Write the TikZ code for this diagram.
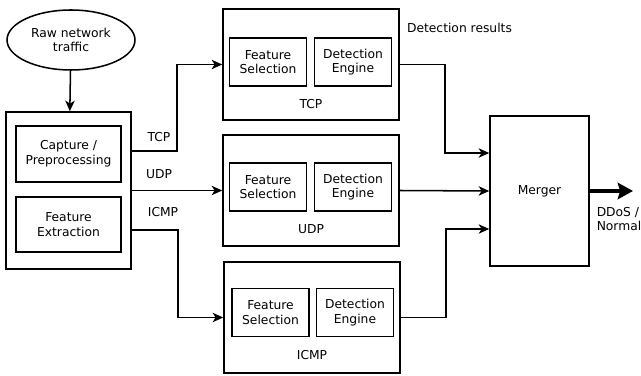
\documentclass[tikz,border=0pt]{standalone}
\usepackage{fontspec}
\setmainfont{DejaVu Sans}
\usepackage{tikz}
\usetikzlibrary{shapes.geometric}
\usetikzlibrary{arrows.meta}
\begin{document}
\begin{tikzpicture}[x=0.03cm, y=-0.03cm, line width=1.3pt,
  font=\fontsize{10.5}{12.5}\selectfont,
  box/.style={draw, rectangle, inner sep=0pt, minimum width=#1},
  stage/.style={box=5.28cm, minimum height=3.33cm},
  unit/.style={box=2.3cm, minimum height=1.44cm, align=center},
  flow/.style={-{Stealth[length=9pt,width=8pt,inset=2.5pt]}},
  bigflow/.style={line width=4pt, -{Stealth[length=13pt,width=14pt,inset=2pt]}}]
\useasboundingbox (0,0) rectangle (641,376);
% input
\node [draw, ellipse, minimum width=3.84cm, minimum height=1.8cm, align=center] (raw) at (71,40) {Raw network\\traffic};
\node [box=3.75cm, minimum height=4.71cm] (prep) at (68.5,190.5) {};
\node [box=3.15cm, minimum height=1.68cm, align=center] (cap) at (68.5,154) {Capture /\\Preprocessing};
\node [box=3.15cm, minimum height=1.65cm, align=center] (fext) at (68.5,224.5) {Feature\\Extraction};
\draw [flow] (raw) -- (prep);
% per protocol stages
\node [stage] (tcp) at (311,64.5) {};
\node [unit] (tcpfs) at (268,62) {Feature\\Selection};
\node [unit] (tcpde) at (353,62) {Detection\\Engine};
\node (tcplab) at (311,104) {TCP};
\node [stage] (udp) at (311,190.5) {};
\node [unit] (udpfs) at (268,187) {Feature\\Selection};
\node [unit] (udpde) at (353,187) {Detection\\Engine};
\node (udplab) at (311,229) {UDP};
\node [stage] (icmp) at (312,317.5) {};
\node [unit] (icmpfs) at (270.5,312.5) {Feature\\Selection};
\node [unit] (icmpde) at (355,312.5) {Detection\\Engine};
\node (icmplab) at (312,355) {ICMP};
% split by protocol
\draw [flow] ([yshift=0.09cm]cap.east -| prep.east) -- ++(45,0) |- (tcp.west);
\draw [flow] (prep.east) -- (udp.west);
\draw [flow] ([yshift=-0.165cm]fext.east -| prep.east) -- ++(46,0) |- (icmp.west);
\node (tcpin) at (159,137) {TCP};
\node (udpin) at (159,174) {UDP};
\node (icmpin) at (163,212) {ICMP};
% merge
\node [box=2.97cm, minimum height=4.5cm] (merger) at (539.5,191) {Merger};
\node (results) at (459.5,28) {Detection results};
\draw [flow] (tcp.east) -- ++(45,0) |- ([yshift=1.14cm]merger.west);
\draw [flow] (udp.east) -- (merger.west);
\draw [flow] (icmp.east) -- ++(45,0) |- ([yshift=-1.14cm]merger.west);
\coordinate (out) at (633,191);
\draw [bigflow] (merger.east) -- (out);
\node [anchor=west, align=left, inner sep=0pt] (verdict) at (596,219) {DDoS /\\Normal};
\end{tikzpicture}
\end{document}
